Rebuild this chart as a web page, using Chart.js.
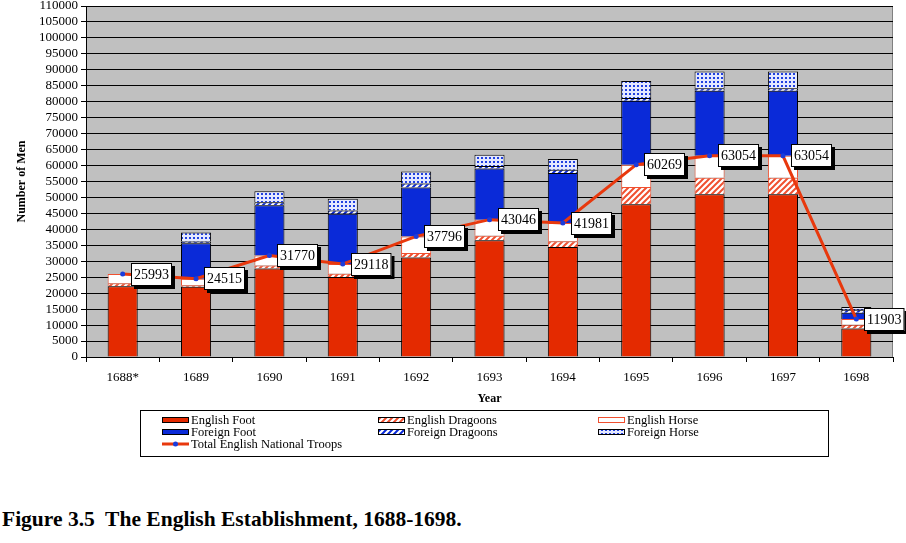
<!DOCTYPE html>
<html>
<head>
<meta charset="utf-8">
<script src="https://cdn.jsdelivr.net/npm/chart.js@4.4.1/dist/chart.umd.min.js"></script>
<style>
body{margin:0;background:#fff;width:906px;height:543px;overflow:hidden;position:relative}
#wrap{position:absolute;left:0;top:0;width:906px;height:470px}
#legende{position:absolute;left:2px;top:507px;font:bold 21.5px "Liberation Serif",serif;white-space:pre;color:#000}
</style>
</head>
<body>
<div id="wrap"><canvas id="graphe"></canvas></div>
<div id="legende">Figure 3.5  The English Establishment, 1688-1698.</div>
<script>
// données
const annees = ["1688*", "1689", "1690", "1691", "1692", "1693", "1694", "1695", "1696", "1697", "1698"];
const englishFoot = [22200, 22000, 27700, 25100, 31200, 36600, 34500, 47900, 51000, 51000, 8900];
const englishDragoons = [900, 500, 1000, 1000, 1400, 1400, 1800, 5400, 5200, 5200, 1200];
const englishHorse = [2893, 2015, 3070, 3018, 5196, 5046, 5681, 6969, 6854, 6854, 1803];
const foreignFoot = [null, 11100, 15800, 15800, 15300, 16000, 15700, 20000, 20400, 20400, 2000];
const foreignDragoons = [null, 600, 900, 1000, 1300, 800, 1000, 900, 800, 800, 900];
const foreignHorse = [null, 2800, 3500, 3700, 3700, 3500, 3400, 5300, 5200, 5200, 900];
const totalEnglish = [25993, 24515, 31770, 29118, 37796, 43046, 41981, 60269, 63054, 63054, 11903];

const ROUGE = "#e42a00";
const BLEU = "#0a2ad8";
const SERIF = '"Liberation Serif", "Times New Roman", serif';

// motifs de remplissage
function motif(taille, dessin) {
  const c = document.createElement("canvas");
  c.width = taille; c.height = taille;
  const g = c.getContext("2d");
  dessin(g, taille);
  return g.createPattern(c, "repeat");
}
function hachures(couleur) {
  return motif(6, (g, s) => {
    g.fillStyle = "#fff"; g.fillRect(0, 0, s, s);
    g.strokeStyle = couleur; g.lineWidth = 2;
    g.beginPath();
    g.moveTo(0, s); g.lineTo(s, 0);
    g.moveTo(-2, 2); g.lineTo(2, -2);
    g.moveTo(s - 2, s + 2); g.lineTo(s + 2, s - 2);
    g.stroke();
  });
}
const hachRouge = hachures("#f05030");
const hachBleu = hachures(BLEU);
const points = motif(4, (g, s) => {
  g.fillStyle = "#e4e8ff"; g.fillRect(0, 0, s, s);
  g.fillStyle = "#2040e0"; g.fillRect(1, 1, 2, 2);
});

// fond gris de la zone de tracé
const fondGris = {
  id: "fondGris",
  beforeDraw(chart) {
    const a = chart.chartArea, ctx = chart.ctx;
    ctx.save();
    ctx.fillStyle = "#c0c0c0";
    ctx.fillRect(a.left, a.top, a.right - a.left, a.bottom - a.top);
    ctx.strokeStyle = "#808080";
    ctx.lineWidth = 1;
    ctx.strokeRect(a.left + 0.5, a.top + 0.5, a.right - a.left - 1, a.bottom - a.top);
    ctx.restore();
  }
};

// étiquettes blanches avec ombre sur la courbe
const etiquettes = {
  id: "etiquettes",
  afterDatasetsDraw(chart) {
    const idx = chart.data.datasets.findIndex(d => d.type === "line");
    const meta = chart.getDatasetMeta(idx);
    const ctx = chart.ctx;
    ctx.save();
    ctx.font = "14px " + SERIF;
    ctx.textBaseline = "middle";
    meta.data.forEach((pt, i) => {
      const txt = String(chart.data.datasets[idx].data[i]);
      const w = ctx.measureText(txt).width + 6;
      const h = 23;
      const x = Math.round(pt.x) + 8, y = Math.round(pt.y - h / 2);
      ctx.fillStyle = "#000";
      ctx.fillRect(x + 3, y + 3, w, h);
      ctx.fillStyle = "#fff";
      ctx.fillRect(x, y, w, h);
      ctx.strokeStyle = "#000"; ctx.lineWidth = 1;
      ctx.strokeRect(x + 0.5, y + 0.5, w - 1, h - 1);
      ctx.fillStyle = "#000";
      ctx.fillText(txt, x + 3, y + h / 2 + 1);
    });
    ctx.restore();
  }
};

// légende encadrée sous le graphique
const legendeBoite = {
  id: "legendeBoite",
  afterDraw(chart) {
    const ctx = chart.ctx;
    ctx.save();
    ctx.fillStyle = "#fff";
    ctx.fillRect(140, 410, 688, 46);
    ctx.strokeStyle = "#000"; ctx.lineWidth = 1;
    ctx.strokeRect(140.5, 410.5, 688, 46);
    const colonnes = [162, 378, 598];
    const lignes = [420, 432, 444];
    ctx.font = "12.5px " + SERIF;
    ctx.textBaseline = "middle";
    chart.data.datasets.forEach((d, i) => {
      const x = colonnes[i % 3], y = lignes[Math.floor(i / 3)];
      if (d.type === "line") {
        ctx.strokeStyle = d.borderColor; ctx.lineWidth = 3;
        ctx.beginPath(); ctx.moveTo(x, y); ctx.lineTo(x + 27, y); ctx.stroke();
        ctx.fillStyle = d.pointBackgroundColor;
        ctx.beginPath(); ctx.arc(x + 13.5, y, 2.5, 0, Math.PI * 2); ctx.fill();
      } else {
        ctx.fillStyle = d.backgroundColor;
        ctx.fillRect(x, y - 3, 27, 6);
        ctx.strokeStyle = d.legendBorder || "#000";
        ctx.strokeRect(x + 0.5, y - 2.5, 26, 5);
      }
      ctx.fillStyle = "#000";
      ctx.fillText(d.label, x + 29, y + 0.5);
    });
    ctx.restore();
  }
};

function barre(label, data, fond, bord, legendBorder) {
  return {
    label: label, data: data, backgroundColor: fond,
    borderColor: bord, borderWidth: 1, stack: "troupes",
    legendBorder: legendBorder, order: 2
  };
}

new Chart(document.getElementById("graphe"), {
  type: "bar",
  data: {
    labels: annees,
    datasets: [
      barre("English Foot", englishFoot, ROUGE, "#000", "#000"),
      barre("English Dragoons", englishDragoons, hachRouge, "#f05030", "#000"),
      barre("English Horse", englishHorse, "#fff", "#f05030", "#f05030"),
      barre("Foreign Foot", foreignFoot, BLEU, "#000", "#000"),
      barre("Foreign Dragoons", foreignDragoons, hachBleu, "#000", "#000"),
      barre("Foreign Horse", foreignHorse, points, "#000", "#000"),
      {
        type: "line",
        label: "Total English National Troops",
        data: totalEnglish,
        stack: "total",
        borderColor: "#e8380d",
        borderWidth: 3,
        pointBackgroundColor: "#1a3cdc",
        pointBorderWidth: 0,
        pointRadius: 2.5,
        tension: 0,
        order: 1
      }
    ]
  },
  options: {
    responsive: true,
    maintainAspectRatio: false,
    animation: false,
    layout: { padding: { top: 0, right: 13, bottom: 63, left: 0 } },
    datasets: { bar: { barPercentage: 0.41, categoryPercentage: 1 } },
    plugins: { legend: { display: false }, tooltip: { enabled: false } },
    scales: {
      x: {
        stacked: true,
        afterFit: s => { s.height = 50; },
        grid: { drawOnChartArea: false, color: "#000", tickLength: 5 },
        border: { color: "#000" },
        ticks: { color: "#000", font: { family: SERIF, size: 13 }, padding: 8 },
        title: { display: true, text: "Year", color: "#000", font: { family: SERIF, size: 12, weight: "bold" }, padding: { top: 0, bottom: 1 } }
      },
      y: {
        stacked: true,
        min: 0, max: 110000,
        afterFit: s => { s.width = 86; s.paddingTop = 6; s.paddingBottom = 0; },
        grid: { color: "#000", tickLength: 5 },
        border: { color: "#000" },
        ticks: {
          stepSize: 5000, autoSkip: false, maxTicksLimit: 40,
          color: "#000", font: { family: SERIF, size: 13 }, padding: 3,
          callback: v => String(v)
        },
        title: { display: true, text: "Number of Men", color: "#000", font: { family: SERIF, size: 12, weight: "bold" }, padding: { top: 15 } }
      }
    }
  },
  plugins: [fondGris, etiquettes, legendeBoite]
});
</script>
</body>
</html>
